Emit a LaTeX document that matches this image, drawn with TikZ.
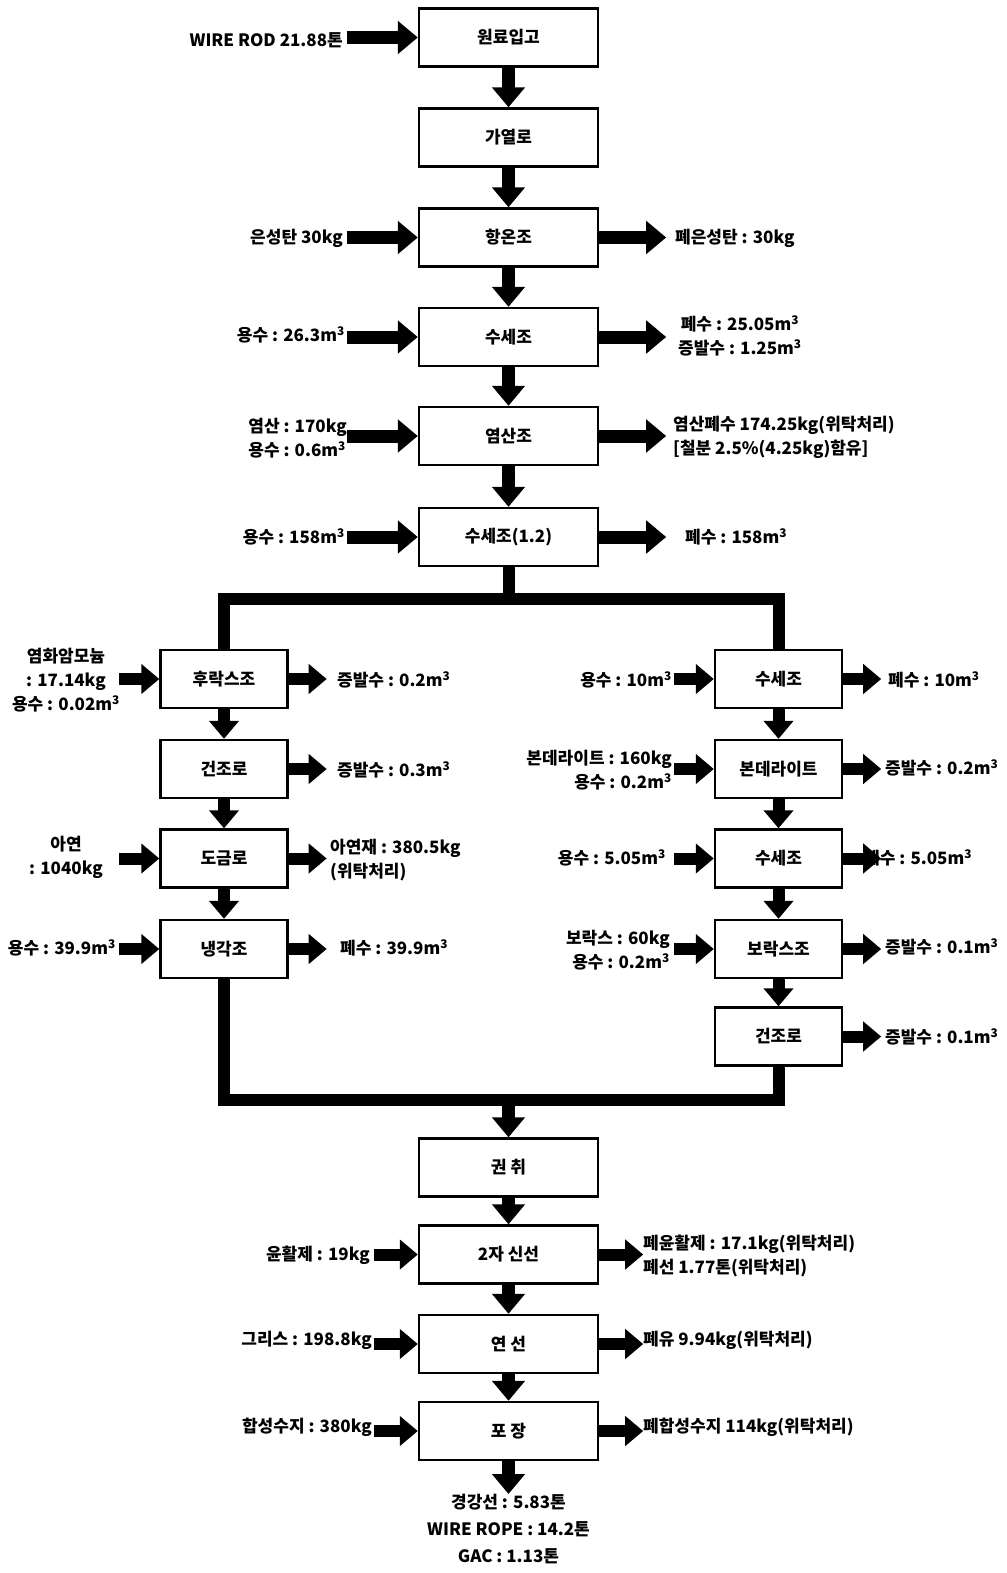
\documentclass[tikz,border=0pt]{standalone}
\usepackage{fontspec}
\setmainfont{Noto Sans CJK KR}
\usetikzlibrary{arrows.meta}
\newcommand{\mcube}{m\textsuperscript{3}}
\begin{document}
\begin{tikzpicture}[x=1pt,y=-1pt,
  proc/.style={draw, line width=2.4pt, minimum height=58pt, inner sep=0pt, font=\fontsize{17}{20}\selectfont\bfseries},
  mainbox/.style={proc, minimum width=179pt},
  sidebox/.style={proc, minimum width=127pt},
  flowarrow/.style={line width=13pt, -{Triangle[width=32pt,length=20pt]}},
  sarrow/.style={line width=12pt, -{Triangle[width=29pt,length=18pt]}},
  bar/.style={line width=12pt, line join=miter},
  lbl/.style={inner sep=0pt, font=\fontsize{17}{24}\selectfont\bfseries},
  lr/.style={lbl, anchor=east, align=right},
  ll/.style={lbl, anchor=west, align=left},
]
\useasboundingbox (0,0) rectangle (1006,1573);
\fill[white] (0,0) rectangle (1006,1573);

% boxes
\node[mainbox] (m1) at (508.5,37.5) {원료입고};
\node[mainbox] (m2) at (508.5,137.5) {가열로};
\node[mainbox] (m3) at (508.5,237.5) {항온조};
\node[mainbox] (m4) at (508.5,337) {수세조};
\node[mainbox] (m5) at (508.5,436) {염산조};
\node[mainbox] (m6) at (508.5,537) {수세조(1.2)};
\node[sidebox] (l1) at (224,679) {후락스조};
\node[sidebox] (l2) at (224,769) {건조로};
\node[sidebox] (l3) at (224,858.5) {도금로};
\node[sidebox] (l4) at (224,949) {냉각조};
\node[sidebox] (r1) at (778.5,679) {수세조};
\node[sidebox] (r2) at (778.5,769) {본데라이트};
\node[sidebox] (r3) at (778.5,858.5) {수세조};
\node[sidebox] (r4) at (778.5,949) {보락스조};
\node[sidebox] (r5) at (778.5,1036.5) {건조로};
\node[mainbox] (m7) at (508.5,1167.5) {권 취};
\node[mainbox] (m8) at (508.5,1254.5) {2자 신선};
\node[mainbox] (m9) at (508.5,1344) {연 선};
\node[mainbox] (m10) at (508.5,1431) {포 장};

% labels upper
\node[lr] (i1) at (343,40) {WIRE ROD 21.88톤};
\node[lr] (i3) at (343,238) {은성탄 30kg};
\node[ll] (o3) at (675,238) {폐은성탄 : 30kg};
\node[lr] (i4) at (345,335) {용수 : 26.3\mcube};
\node[lbl, anchor=west, align=center] (o4) at (678,336) {폐수 : 25.05\mcube\\증발수 : 1.25\mcube};
\node[lbl, anchor=east, align=left] (i5) at (347,438) {염산 : 170kg\\용수 : 0.6\mcube};
\node[ll] (o5) at (673,437) {염산폐수 174.25kg(위탁처리)\\{[}철분 2.5\%(4.25kg)함유]};
\node[lr] (i6) at (345,537) {용수 : 158\mcube};
\node[ll] (o6) at (685,537) {폐수 : 158\mcube};

% labels left column
\node[lbl, align=center] (li1) at (66,680) {염화암모늄\\: 17.14kg\\용수 : 0.02\mcube};
\node[ll] (lo1) at (337,680) {증발수 : 0.2\mcube};
\node[ll] (lo2) at (337,770) {증발수 : 0.3\mcube};
\node[lbl, align=center] (li3) at (66,857) {아연\\: 1040kg};
\node[ll] (lo3) at (330,860) {아연재 : 380.5kg\\(위탁처리)};
\node[lr] (li4) at (116,948) {용수 : 39.9\mcube};
\node[ll] (lo4) at (340,948) {폐수 : 39.9\mcube};

% labels right column
\node[lr] (ri1) at (672,680) {용수 : 10\mcube};
\node[ll] (ro1) at (888,680) {폐수 : 10\mcube};
\node[lr] (ri2) at (672,770) {본데라이트 : 160kg\\용수 : 0.2\mcube};
\node[ll] (ro2) at (885,768) {증발수 : 0.2\mcube};
\node[lr] (ri3) at (666,858) {용수 : 5.05\mcube};
\node[ll] (ro3) at (864,858) {폐수 : 5.05\mcube};
\node[lr] (ri4) at (670,950) {보락스 : 60kg\\용수 : 0.2\mcube};
\node[ll] (ro4) at (885,947) {증발수 : 0.1\mcube};
\node[ll] (ro5) at (885,1037) {증발수 : 0.1\mcube};

% labels lower
\node[lr] (i8) at (370,1255) {윤활제 : 19kg};
\node[ll] (o8) at (643,1256) {폐윤활제 : 17.1kg(위탁처리)\\폐선 1.77톤(위탁처리)};
\node[lr] (i9) at (372,1340) {그리스 : 198.8kg};
\node[ll] (o9) at (643,1340) {폐유 9.94kg(위탁처리)};
\node[lr] (i10) at (372,1427) {합성수지 : 380kg};
\node[ll] (o10) at (643,1427) {폐합성수지 114kg(위탁처리)};
\node[lbl, anchor=north, align=center, font=\fontsize{17}{27}\selectfont\bfseries] (prod) at (508.5,1494) {경강선 : 5.83톤\\WIRE ROPE : 14.2톤\\GAC : 1.13톤};

% vertical flow arrows
\foreach \a/\b in {m1/m2,m2/m3,m3/m4,m4/m5,m5/m6,m7/m8,m8/m9,m9/m10}
  \draw[flowarrow] (\a.south) -- (\b.north);
\foreach \a/\b in {l1/l2,l2/l3,l3/l4,r1/r2,r2/r3,r3/r4,r4/r5}
  \draw[sarrow] (\a.south) -- (\b.north);
\draw[flowarrow] (m10.south) -- (prod.north);

% split / merge bars
\coordinate (split) at (508.5,599);
\coordinate (merge) at (508.5,1100);
\draw[bar] (m6.south) -- (split);
\draw[bar] (l1.north) |- (split) -| (r1.north);
\draw[bar] (l4.south) |- (merge) -| (r5.south);
\draw[flowarrow] (merge) -- (m7.north);

% input arrows main (upper)
\foreach \b in {m1,m3,m4,m5,m6}
  \draw[flowarrow] ([xshift=-71pt]\b.west) -- (\b.west);
% output arrows main (upper)
\foreach \b in {m3,m4,m5,m6}
  \draw[flowarrow] (\b.east) -- ([xshift=67pt]\b.east);
% lower main
\foreach \b in {m8,m9,m10}{
  \draw[sarrow] ([xshift=-44pt]\b.west) -- (\b.west);
  \draw[sarrow] (\b.east) -- ([xshift=44pt]\b.east);
}
% left column
\foreach \b in {l1,l3,l4}
  \draw[sarrow] ([xshift=-40pt]\b.west) -- (\b.west);
\foreach \b in {l1,l2,l3,l4}
  \draw[sarrow] (\b.east) -- ([xshift=38pt]\b.east);
% right column
\foreach \b in {r1,r2,r3,r4}
  \draw[sarrow] ([xshift=-40pt]\b.west) -- (\b.west);
\foreach \b in {r1,r2,r3,r4,r5}
  \draw[sarrow] (\b.east) -- ([xshift=38pt]\b.east);
\end{tikzpicture}
\end{document}
